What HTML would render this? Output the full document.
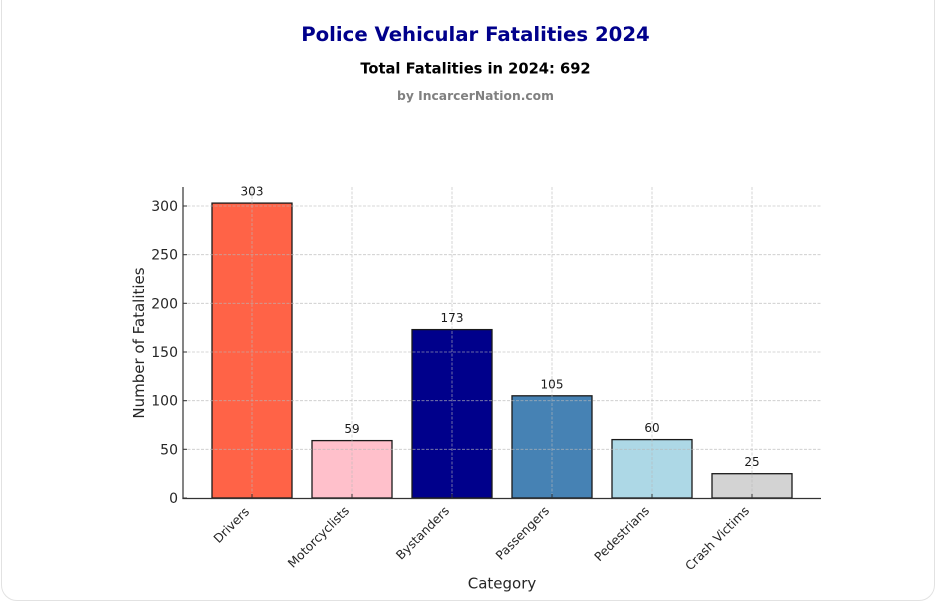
<!DOCTYPE html>
<html>
<head>
<meta charset="utf-8">
<style>
  html, body { margin:0; padding:0; background:#fff; }
  body { width:936px; height:610px; position:relative; overflow:hidden; font-family:"DejaVu Sans","Liberation Sans",sans-serif; }
  .card { position:absolute; left:1px; top:-20px; width:934px; height:621px; border:1px solid #e2e2e2; border-radius:16px; box-sizing:border-box; }
  svg { position:absolute; left:0; top:0; }
</style>
</head>
<body>
<div class="card"></div>
<svg width="936" height="610" viewBox="0 0 936 610" xmlns="http://www.w3.org/2000/svg" font-family="DejaVu Sans, Liberation Sans, sans-serif">
  <!-- Titles -->
  <text x="475.5" y="41" text-anchor="middle" font-size="19.7" font-weight="bold" fill="#00008B">Police Vehicular Fatalities 2024</text>
  <text x="475.5" y="73.5" text-anchor="middle" font-size="14.7" font-weight="bold" fill="#000">Total Fatalities in 2024: 692</text>
  <text x="475.5" y="100" text-anchor="middle" font-size="12.3" font-weight="bold" fill="#808080">by IncarcerNation.com</text>

  <!-- Bars -->
  <g stroke="#1a1a1a" stroke-width="1.3">
    <rect x="212" y="203.1" width="80" height="294.9" fill="#FF6347"/>
    <rect x="312" y="440.6" width="80" height="57.4" fill="#FFC0CB"/>
    <rect x="412" y="329.6" width="80" height="168.4" fill="#00008B"/>
    <rect x="512" y="395.8" width="80" height="102.2" fill="#4682B4"/>
    <rect x="612" y="439.6" width="80" height="58.4" fill="#ADD8E6"/>
    <rect x="712" y="473.7" width="80" height="24.3" fill="#D3D3D3"/>
  </g>

  <!-- Grid (on top of bars) -->
  <g stroke="#b8b8b8" stroke-width="0.8" stroke-dasharray="3,1.5" opacity="0.75">
    <line x1="183" y1="449.3" x2="821" y2="449.3"/>
    <line x1="183" y1="400.7" x2="821" y2="400.7"/>
    <line x1="183" y1="352" x2="821" y2="352"/>
    <line x1="183" y1="303.3" x2="821" y2="303.3"/>
    <line x1="183" y1="254.7" x2="821" y2="254.7"/>
    <line x1="183" y1="206" x2="821" y2="206"/>
    <line x1="252" y1="187" x2="252" y2="498"/>
    <line x1="352" y1="187" x2="352" y2="498"/>
    <line x1="452" y1="187" x2="452" y2="498"/>
    <line x1="552" y1="187" x2="552" y2="498"/>
    <line x1="652" y1="187" x2="652" y2="498"/>
    <line x1="752" y1="187" x2="752" y2="498"/>
  </g>

  <!-- Spines -->
  <g stroke="#333" stroke-width="1.2">
    <line x1="183" y1="187" x2="183" y2="498.6"/>
    <line x1="182.4" y1="498.5" x2="821" y2="498.5"/>
  </g>
  <!-- Ticks (inward) -->
  <g stroke="#333" stroke-width="1">
    <line x1="183" y1="498" x2="187" y2="498"/>
    <line x1="183" y1="449.3" x2="187" y2="449.3"/>
    <line x1="183" y1="400.7" x2="187" y2="400.7"/>
    <line x1="183" y1="352" x2="187" y2="352"/>
    <line x1="183" y1="303.3" x2="187" y2="303.3"/>
    <line x1="183" y1="254.7" x2="187" y2="254.7"/>
    <line x1="183" y1="206" x2="187" y2="206"/>
    <line x1="252" y1="498" x2="252" y2="494"/>
    <line x1="352" y1="498" x2="352" y2="494"/>
    <line x1="452" y1="498" x2="452" y2="494"/>
    <line x1="552" y1="498" x2="552" y2="494"/>
    <line x1="652" y1="498" x2="652" y2="494"/>
    <line x1="752" y1="498" x2="752" y2="494"/>
  </g>

  <!-- Y tick labels -->
  <g font-size="14" fill="#262626" text-anchor="end">
    <text x="178" y="503">0</text>
    <text x="178" y="454.3">50</text>
    <text x="178" y="405.7">100</text>
    <text x="178" y="357">150</text>
    <text x="178" y="308.3">200</text>
    <text x="178" y="259.7">250</text>
    <text x="178" y="211">300</text>
  </g>

  <!-- Value labels -->
  <g font-size="12" fill="#1a1a1a" text-anchor="middle">
    <text x="252" y="195.6">303</text>
    <text x="352" y="433.1">59</text>
    <text x="452" y="322.1">173</text>
    <text x="552" y="388.3">105</text>
    <text x="652" y="432.1">60</text>
    <text x="752" y="466.2">25</text>
  </g>

  <!-- X tick labels -->
  <g font-size="12.3" fill="#262626" text-anchor="end">
    <text transform="translate(250,512.5) rotate(-45)">Drivers</text>
    <text transform="translate(350,511.5) rotate(-45)">Motorcyclists</text>
    <text transform="translate(450,511.5) rotate(-45)">Bystanders</text>
    <text transform="translate(550,511.5) rotate(-45)">Passengers</text>
    <text transform="translate(650,511.5) rotate(-45)">Pedestrians</text>
    <text transform="translate(750,511.5) rotate(-45)">Crash Victims</text>
  </g>

  <!-- Axis labels -->
  <text transform="translate(144,343) rotate(-90)" text-anchor="middle" font-size="15" fill="#262626">Number of Fatalities</text>
  <text x="502" y="588.3" text-anchor="middle" font-size="15" fill="#262626">Category</text>
</svg>
</body>
</html>
